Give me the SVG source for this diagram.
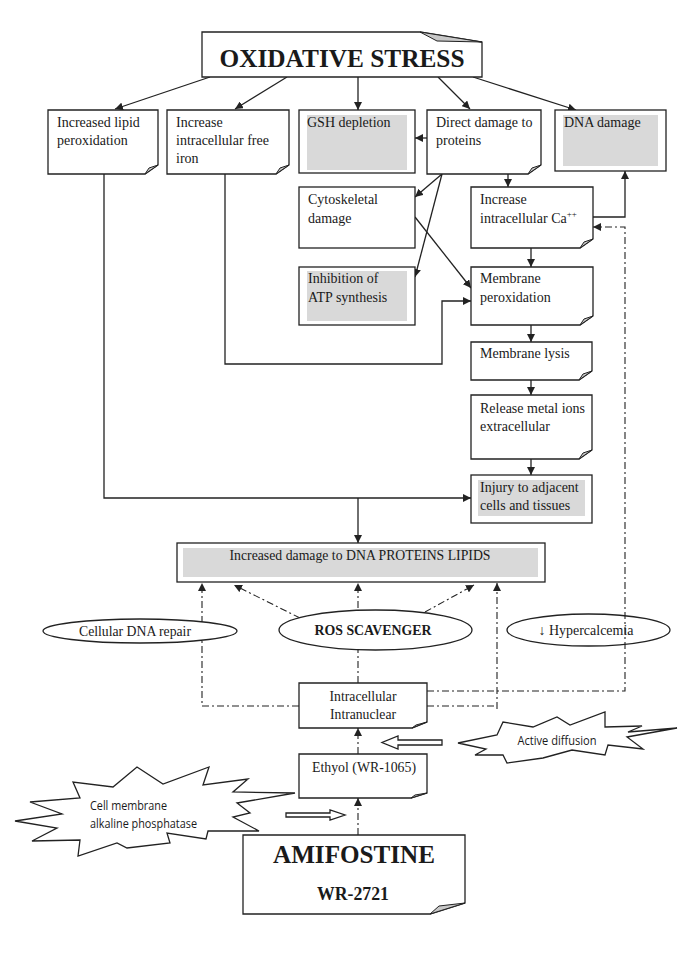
<svg xmlns="http://www.w3.org/2000/svg" width="685" height="968" viewBox="0 0 685 968">
<defs>
<style>
.box{fill:#fff;stroke:#222;stroke-width:1.3}
.fold{fill:#c8c8c8;stroke:#222;stroke-width:1}
.shade{fill:#d9d9d9}
.t{font-family:"Liberation Serif","Times New Roman",serif;font-size:14px;fill:#1a1a1a}
.s{font-family:"Open Sans","Liberation Sans",Arial,sans-serif;font-size:12px;fill:#1a1a1a}
.b{font-weight:bold}
.big{font-size:26px}
.mid{font-size:19px}
.sup{font-size:9px}
.s13{font-size:13px}
.ln{fill:none;stroke:#222;stroke-width:1.3}
.dd{fill:none;stroke:#222;stroke-width:1.1;stroke-dasharray:7 3 2 3}
</style>
<marker id="ah" viewBox="0 0 10 10" refX="10" refY="5" markerWidth="8" markerHeight="8" markerUnits="userSpaceOnUse" orient="auto">
<path d="M0,0 L10,5 L0,10 Z" fill="#222"/>
</marker>
</defs>
<rect width="685" height="968" fill="#fff"/>

<g id="hypercalcemia">
<ellipse cx="588.5" cy="630" rx="81.5" ry="16" class="box"/>
<text x="586" y="635" class="t" text-anchor="middle" textLength="95" lengthAdjust="spacingAndGlyphs">↓ Hypercalcemia</text>
</g>

<g id="connectors">
<line x1="210" y1="77" x2="115" y2="109" class="ln" marker-end="url(#ah)"/>
<line x1="287" y1="77" x2="235" y2="109" class="ln" marker-end="url(#ah)"/>
<line x1="358" y1="77" x2="358" y2="110" class="ln" marker-end="url(#ah)"/>
<line x1="438" y1="77" x2="470" y2="109" class="ln" marker-end="url(#ah)"/>
<line x1="473" y1="77" x2="576" y2="110" class="ln" marker-end="url(#ah)"/>
<line x1="427" y1="138" x2="415" y2="138" class="ln" marker-end="url(#ah)"/>
<line x1="442" y1="174" x2="415" y2="197" class="ln" marker-end="url(#ah)"/>
<line x1="442" y1="174" x2="415" y2="277" class="ln" marker-end="url(#ah)"/>
<line x1="508" y1="174" x2="508" y2="187" class="ln" marker-end="url(#ah)"/>
<line x1="415" y1="217" x2="471" y2="288" class="ln" marker-end="url(#ah)"/>
<line x1="531" y1="248" x2="531" y2="267" class="ln" marker-end="url(#ah)"/>
<polyline points="593,217 625,217 625,171" class="ln" marker-end="url(#ah)"/>
<line x1="531" y1="325" x2="531" y2="342" class="ln" marker-end="url(#ah)"/>
<line x1="531" y1="380" x2="531" y2="395" class="ln" marker-end="url(#ah)"/>
<line x1="531" y1="459" x2="531" y2="475" class="ln" marker-end="url(#ah)"/>
<polyline points="104,174 104,498 471,498" class="ln" marker-end="url(#ah)"/>
<line x1="358" y1="498" x2="358" y2="543" class="ln" marker-end="url(#ah)"/>
<polyline points="225,174 225,364 442,364 442,301 471,301" class="ln" marker-end="url(#ah)"/>
<polyline points="299,706 202,706 202,583" class="dd" marker-end="url(#ah)"/>
<line x1="358" y1="683" x2="358" y2="583" class="dd" marker-end="url(#ah)"/>
<line x1="300" y1="618" x2="234" y2="585" class="dd" marker-end="url(#ah)"/>
<line x1="425" y1="612" x2="474" y2="585" class="dd" marker-end="url(#ah)"/>
<line x1="427" y1="706" x2="497" y2="706" class="dd"/>
<line x1="497" y1="709" x2="497" y2="583" class="dd" marker-end="url(#ah)"/>
<polyline points="427,691 625,691 625,227 593,227" class="dd" marker-end="url(#ah)"/>
<line x1="358" y1="754" x2="358" y2="728" class="dd" marker-end="url(#ah)"/>
<line x1="358" y1="835" x2="358" y2="798" class="dd" marker-end="url(#ah)"/>
<polygon points="442,740 398,740 398,736 382,742.5 398,749 398,745 442,745" class="box" stroke-width="1"/>
<polygon points="286,813 330,813 330,810 345,815 330,820 330,817 286,817" class="box" stroke-width="1"/>
</g>

<g id="oxidative-stress">
<path d="M202,32 H420 L482,42 V77 H202 Z" class="box"/>
<path d="M420,32 L437,41 L482,42 Z" class="fold"/>
<text x="342" y="67" class="t b big" text-anchor="middle" textLength="245" lengthAdjust="spacingAndGlyphs">OXIDATIVE STRESS</text>
</g>

<g id="lipid-peroxidation">
<path d="M48,110 H158 V165 L145,174 H48 Z" class="box"/>
<path d="M145,174 L149,168 L158,165 Z" class="fold"/>
<text class="t"><tspan x="57" y="127">Increased lipid</tspan><tspan x="57" y="145">peroxidation</tspan></text>
</g>

<g id="free-iron">
<path d="M167,110 H289 V165 L276,174 H167 Z" class="box"/>
<path d="M276,174 L280,168 L289,165 Z" class="fold"/>
<text class="t"><tspan x="176" y="127">Increase</tspan><tspan x="176" y="145">intracellular free</tspan><tspan x="176" y="163">iron</tspan></text>
</g>

<g id="gsh-depletion">
<rect x="299" y="110" width="116" height="63" class="box"/>
<rect x="307" y="115" width="100" height="55" class="shade"/>
<text x="307" y="127" class="t">GSH depletion</text>
</g>

<g id="direct-damage">
<path d="M427,110 H541 V165 L528,174 H427 Z" class="box"/>
<path d="M528,174 L532,168 L541,165 Z" class="fold"/>
<text class="t"><tspan x="436" y="127">Direct damage to</tspan><tspan x="436" y="145">proteins</tspan></text>
</g>

<g id="dna-damage">
<rect x="555" y="110" width="111" height="61" class="box"/>
<rect x="563" y="115" width="95" height="51" class="shade"/>
<text x="564" y="127" class="t">DNA damage</text>
</g>

<g id="cytoskeletal">
<rect x="299" y="187" width="116" height="61" class="box"/>
<text class="t"><tspan x="308" y="204">Cytoskeletal</tspan><tspan x="308" y="223">damage</tspan></text>
</g>

<g id="calcium">
<path d="M471,187 H593 V239 L580,248 H471 Z" class="box"/>
<path d="M580,248 L584,242 L593,239 Z" class="fold"/>
<text class="t"><tspan x="480" y="204">Increase</tspan><tspan x="480" y="223">intracellular Ca</tspan><tspan class="sup" dy="-6">++</tspan></text>
</g>

<g id="atp">
<rect x="299" y="267" width="116" height="58" class="box"/>
<rect x="307" y="271" width="100" height="50" class="shade"/>
<text class="t"><tspan x="308" y="283">Inhibition of</tspan><tspan x="308" y="302">ATP synthesis</tspan></text>
</g>

<g id="membrane-peroxidation">
<path d="M471,267 H593 V316 L580,325 H471 Z" class="box"/>
<path d="M580,325 L584,319 L593,316 Z" class="fold"/>
<text class="t"><tspan x="480" y="283">Membrane</tspan><tspan x="480" y="302">peroxidation</tspan></text>
</g>

<g id="membrane-lysis">
<path d="M471,342 H592 V371 L579,380 H471 Z" class="box"/>
<path d="M579,380 L583,374 L592,371 Z" class="fold"/>
<text x="480" y="358" class="t">Membrane lysis</text>
</g>

<g id="release-metal">
<path d="M471,395 H592 V450 L579,459 H471 Z" class="box"/>
<path d="M579,459 L583,453 L592,450 Z" class="fold"/>
<text class="t"><tspan x="480" y="413">Release metal ions</tspan><tspan x="480" y="431">extracellular</tspan></text>
</g>

<g id="injury">
<rect x="471" y="475" width="121" height="48" class="box"/>
<rect x="478" y="480" width="107" height="36" class="shade"/>
<text class="t"><tspan x="480" y="492">Injury to adjacent</tspan><tspan x="480" y="510">cells and tissues</tspan></text>
</g>

<g id="increased-damage">
<rect x="177" y="543" width="368" height="39" class="box"/>
<rect x="183" y="548" width="355" height="29" class="shade"/>
<text x="360" y="560" class="t" text-anchor="middle" textLength="261" lengthAdjust="spacingAndGlyphs">Increased damage to DNA PROTEINS LIPIDS</text>
</g>

<g id="dna-repair">
<ellipse cx="140" cy="631" rx="97" ry="12" class="box"/>
<text x="135" y="636" class="t" text-anchor="middle" textLength="112" lengthAdjust="spacingAndGlyphs">Cellular DNA repair</text>
</g>

<g id="ros-scavenger">
<ellipse cx="375.5" cy="630" rx="96.5" ry="20" class="box"/>
<text x="373" y="635" class="t b" text-anchor="middle" textLength="117" lengthAdjust="spacingAndGlyphs">ROS SCAVENGER</text>
</g>

<g id="intracellular">
<path d="M299,683 H427 V722 L412,728 H299 Z" class="box"/>
<path d="M412,728 L416,725 L427,722 Z" class="fold"/>
<text class="t" text-anchor="middle"><tspan x="363" y="701" textLength="67" lengthAdjust="spacingAndGlyphs">Intracellular</tspan><tspan x="363" y="719" textLength="66" lengthAdjust="spacingAndGlyphs">Intranuclear</tspan></text>
</g>

<g id="active-diffusion">
<polygon points="458,743 497,735 503,722 533,727 557,717 570,725 605,712 605,727 642,726 628,732 677,728 627,737 643,749 608,745 605,755 572,750 543,758 507,763 503,755 475,755 486,749" class="box" stroke-width="1"/>
<text x="557" y="745" class="s" text-anchor="middle" textLength="79" lengthAdjust="spacingAndGlyphs">Active diffusion</text>
</g>

<g id="ethyol">
<path d="M299,754 H427 V793 L411,798 H299 Z" class="box"/>
<path d="M411,798 L415,795 L427,793 Z" class="fold"/>
<text x="364" y="772" class="t" text-anchor="middle" textLength="104" lengthAdjust="spacingAndGlyphs">Ethyol (WR-1065)</text>
</g>

<g id="alkaline-phosphatase">
<polygon points="15,821 62,814 30,802 80,798 73,782 113,787 137,767 163,784 209,767 203,785 248,779 233,792 295,793 237,803 250,813 233,817 259,831 208,831 206,839 167,833 170,843 127,848 117,843 78,856 80,840 32,841 57,828" class="box" stroke-width="1"/>
<text class="s s13"><tspan x="90" y="810" textLength="77" lengthAdjust="spacingAndGlyphs">Cell membrane</tspan><tspan x="90" y="828" textLength="107" lengthAdjust="spacingAndGlyphs">alkaline phosphatase</tspan></text>
</g>

<g id="amifostine">
<path d="M243,835 H465 V903 L430,914 H243 Z" class="box"/>
<path d="M430,914 L439,906 L465,903 Z" class="fold"/>
<text x="354" y="863" class="t b big" text-anchor="middle" textLength="162" lengthAdjust="spacingAndGlyphs">AMIFOSTINE</text>
<text x="353" y="900" class="t b mid" text-anchor="middle" textLength="72" lengthAdjust="spacingAndGlyphs">WR-2721</text>
</g>
</svg>
